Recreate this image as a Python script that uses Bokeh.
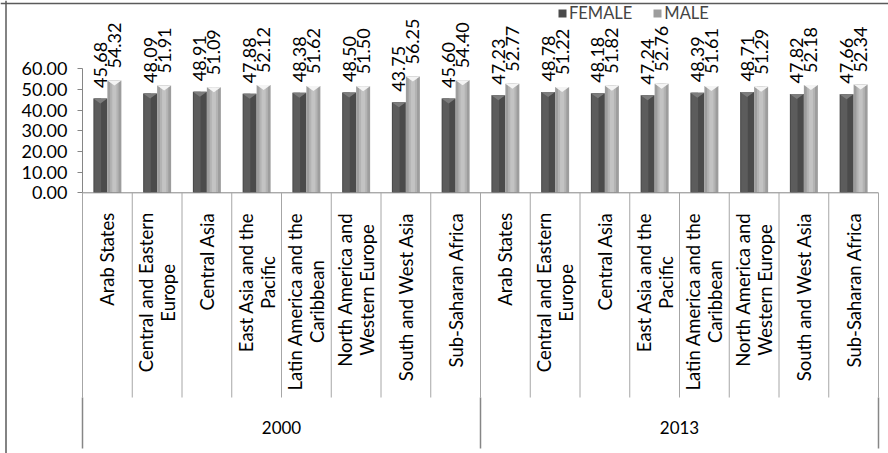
import glob
import math
import struct

from bokeh.core.properties import value
from bokeh.embed import file_html
from bokeh.models import (ColumnDataSource, FixedTicker, Legend, LegendItem,
                          LinearAxis, NumeralTickFormatter, Range1d, Span)
from bokeh.plotting import figure
from bokeh.resources import INLINE

# ---- data -------------------------------------------------------------
years = ["2000", "2013"]
region_lines = [
    ["Arab States"],
    ["Central and Eastern", "Europe"],
    ["Central Asia"],
    ["East Asia and the", "Pacific"],
    ["Latin America and the", "Caribbean"],
    ["North America and", "Western Europe"],
    ["South and West Asia"],
    ["Sub-Saharan Africa"],
]
female = [45.68, 48.09, 48.91, 47.88, 48.38, 48.50, 43.75, 45.60,
          47.23, 48.78, 48.18, 47.24, 48.39, 48.71, 47.82, 47.66]
male = [54.32, 51.91, 51.09, 52.12, 51.62, 51.50, 56.25, 54.40,
        52.77, 51.22, 51.82, 52.76, 51.61, 51.29, 52.18, 52.34]
y_ticks = [0, 10, 20, 30, 40, 50, 60]

# ---- geometry ---------------------------------------------------------
W, H = 888, 453
AXIS_X = 82.0        # pixel position of the category axis start
CAT_W = 49.75        # pixel width of one category slot
ZERO_Y = 192.3       # pixel position of the value 0
PX_PER_UNIT = 2.067  # pixels per value unit
FONT = "Lato"
FS_NUM = 18.0        # tick and value labels
FS_CAT = 18.5        # region labels
FS_GRP = 17.0        # year labels
FS_LEG = 16.5        # legend
LINE_GAP = 22.0      # distance between wrapped label lines, px
LABEL_TOP = 20.0     # gap from the axis line to the top of region labels


def px(size):
    return "%gpx" % size


def _font_measurer(pattern):
    """Return f(text, size) -> advance width in px read from a font file."""
    paths = sorted(glob.glob("/usr/share/fonts/**/" + pattern, recursive=True)
                   + glob.glob("/usr/local/share/fonts/**/" + pattern,
                               recursive=True))
    if not paths:
        return None
    try:
        data = open(paths[0], "rb").read()
        n_tab = struct.unpack(">H", data[4:6])[0]
        tab = {}
        for k in range(n_tab):
            tag, _, off, ln = struct.unpack(">4sIII", data[12 + 16 * k:28 + 16 * k])
            tab[tag.decode("latin1")] = off
        upem = struct.unpack(">H", data[tab["head"] + 18:tab["head"] + 20])[0]
        n_hm = struct.unpack(">H", data[tab["hhea"] + 34:tab["hhea"] + 36])[0]
        hm = tab["hmtx"]
        adv = [struct.unpack(">H", data[hm + 4 * i:hm + 4 * i + 2])[0]
               for i in range(n_hm)]
        cm = tab["cmap"]
        n_sub = struct.unpack(">H", data[cm + 2:cm + 4])[0]
        sub = None
        for k in range(n_sub):
            pid, eid, off = struct.unpack(">HHI", data[cm + 4 + 8 * k:cm + 12 + 8 * k])
            if struct.unpack(">H", data[cm + off:cm + off + 2])[0] == 4:
                sub = cm + off
                break
        segx2 = struct.unpack(">H", data[sub + 6:sub + 8])[0]
        seg = segx2 // 2
        ends = struct.unpack(">%dH" % seg, data[sub + 14:sub + 14 + segx2])
        so = sub + 16 + segx2
        starts = struct.unpack(">%dH" % seg, data[so:so + segx2])
        do = so + segx2
        deltas = struct.unpack(">%dh" % seg, data[do:do + segx2])
        ro = do + segx2
        ros = struct.unpack(">%dH" % seg, data[ro:ro + segx2])

        def gid(ch):
            c = ord(ch)
            for s in range(seg):
                if starts[s] <= c <= ends[s]:
                    if ros[s] == 0:
                        return (c + deltas[s]) & 0xFFFF
                    a = ro + 2 * s + ros[s] + 2 * (c - starts[s])
                    g = struct.unpack(">H", data[a:a + 2])[0]
                    return (g + deltas[s]) & 0xFFFF if g else 0
            return 0

        def measure(text, size):
            return sum(adv[min(gid(ch), n_hm - 1)] for ch in text) * size / upem
        measure("Ag", 10)
        return measure
    except Exception:
        return None


text_width = _font_measurer("Lato-Regular.ttf") or \
    (lambda text, size: len(text) * 0.44 * size)


def x_at(px_):
    return (px_ - AXIS_X) / CAT_W


def y_at(py):
    return (ZERO_Y - py) / PX_PER_UNIT


n_reg = len(region_lines)
n_cat = n_reg * len(years)
centers = [i + 0.5 for i in range(n_cat)]
BW = 14.0 / CAT_W                 # single bar width in data units
CAP = 5.0 / PX_PER_UNIT           # height of the bevelled top

p = figure(width=W, height=H, output_backend="svg", toolbar_location=None,
           x_range=Range1d(x_at(0), x_at(W)), y_range=Range1d(y_at(H), y_at(0)),
           x_axis_type=None, y_axis_type=None, min_border=0,
           outline_line_color=None, background_fill_color="white",
           border_fill_color="white")

# ---- value axis -------------------------------------------------------
yaxis = LinearAxis(fixed_location=0, bounds=(0, 60),
                   ticker=FixedTicker(ticks=y_ticks),
                   formatter=NumeralTickFormatter(format="0.00"),
                   axis_line_color="#868686", major_tick_line_color="#868686",
                   major_tick_out=5, major_tick_in=0, minor_tick_out=0,
                   minor_tick_in=0, major_label_standoff=10,
                   major_label_text_font=FONT,
                   major_label_text_font_size=px(FS_NUM),
                   major_label_text_color="black")
p.add_layout(yaxis, "left")

# ---- bars -------------------------------------------------------------
series = [
    ("FEMALE", female, -1, "#4b4b4b",
     [(0.08, 0.55, "#5c5c5c")], "#7c7c7c", -10.5),
    ("MALE", male, 1, "#9d9d9d",
     [(0.2, 0.8, "#b3b3b3"), (0.35, 0.65, "#c3c3c3")], "#f4f4f4", -12),
]
legend_items = []
for name, vals, side, base, strips, cap_col, lab_off in series:
    bx = [c + side * BW / 2 for c in centers]
    src = ColumnDataSource(dict(x=bx, top=vals,
                                label=["%.2f" % v for v in vals]))
    base_r = p.vbar(x="x", top="top", bottom=0, width=BW, source=src,
                    fill_color=base, line_color=None)
    for lf, rf, col in strips:
        sx = [x - BW / 2 + (lf + rf) / 2 * BW for x in bx]
        p.vbar(x=sx, top=vals, bottom=0, width=(rf - lf) * BW,
               fill_color=col, line_color=None)
    p.patches(xs=[[x - BW / 2, x + BW / 2, x] for x in bx],
              ys=[[v, v, v - CAP] for v in vals],
              fill_color=cap_col, line_color=None)
    p.text(x="x", y="top", text="label", source=src, angle=math.pi / 2,
           y_offset=lab_off, text_align="left", text_baseline="middle",
           text_font=value(FONT), text_font_size=px(FS_NUM),
           text_color="black")
    legend_items.append(LegendItem(label=name, renderers=[base_r]))

# ---- category axis ----------------------------------------------------
sep_bottom = y_at(397)
grp_bottom = y_at(448)
p.segment(x0=[0], y0=[0], x1=[n_cat], y1=[0], line_color="#868686",
          line_width=1)
bounds = list(range(n_cat + 1))
p.segment(x0=bounds, y0=[0] * len(bounds), x1=bounds,
          y1=[sep_bottom] * len(bounds), line_color="#a6a6a6", line_width=1)
gbounds = [g * n_reg for g in range(len(years) + 1)]
p.segment(x0=gbounds, y0=[sep_bottom] * len(gbounds), x1=gbounds,
          y1=[grp_bottom] * len(gbounds), line_color="#868686", line_width=1.5)

# the longest line of every label hangs from the axis; the other lines of a
# wrapped label are centred on it
hang = dict(x=[], text=[], xo=[])
centred = dict(x=[], text=[], xo=[], yo=[])
for i in range(n_cat):
    lines = region_lines[i % n_reg]
    widths = [text_width(t, FS_CAT) for t in lines]
    longest = max(range(len(lines)), key=lambda j: widths[j])
    mid = LABEL_TOP + widths[longest] / 2
    k = len(lines)
    for j, t in enumerate(lines):
        xo = (j - (k - 1) / 2) * LINE_GAP
        if j == longest:
            hang["x"].append(centers[i])
            hang["text"].append(t)
            hang["xo"].append(xo)
        else:
            centred["x"].append(centers[i])
            centred["text"].append(t)
            centred["xo"].append(xo)
            centred["yo"].append(mid)

common = dict(angle=math.pi / 2, text_baseline="middle",
              text_font=value(FONT), text_font_size=px(FS_CAT),
              text_color="black")
p.text(x=hang["x"], y=[0] * len(hang["x"]), text=hang["text"],
       x_offset=hang["xo"], y_offset=LABEL_TOP, text_align="right", **common)
p.text(x=centred["x"], y=[0] * len(centred["x"]), text=centred["text"],
       x_offset=centred["xo"], y_offset=centred["yo"], text_align="center",
       **common)

p.text(x=[g * n_reg + n_reg / 2 for g in range(len(years))],
       y=[y_at(427)] * len(years), text=years, text_align="center",
       text_baseline="middle", text_font=value(FONT),
       text_font_size=px(FS_GRP), text_color="black")

# ---- chart border (top and left edges) -------------------------------
p.add_layout(Span(location=y_at(3), dimension="width",
                  line_color="#5a5a5a", line_width=1.5))
p.add_layout(Span(location=x_at(5.5), dimension="height",
                  line_color="#5a5a5a", line_width=1.5))

# ---- legend -----------------------------------------------------------
legend = Legend(items=legend_items, orientation="horizontal",
                location=(557, 430), padding=0, margin=0, spacing=20,
                glyph_width=10, glyph_height=10, label_standoff=2,
                label_text_font=FONT, label_text_font_size=px(FS_LEG),
                border_line_color=None, background_fill_alpha=0)
p.add_layout(legend)

open("out.html", "w").write(file_html(p, INLINE))
